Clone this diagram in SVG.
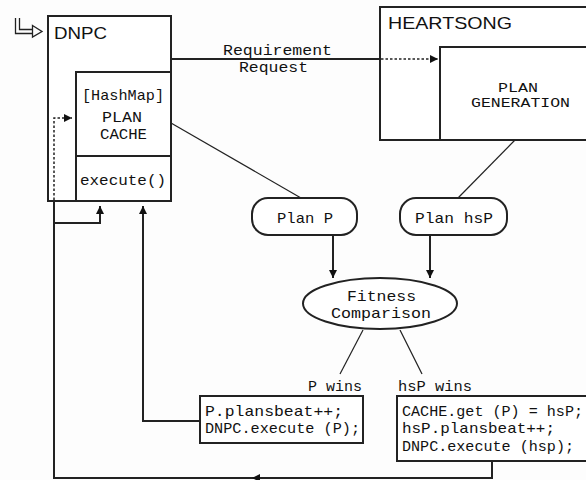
<svg xmlns="http://www.w3.org/2000/svg" width="586" height="480" viewBox="0 0 586 480">
<defs>
<style>
.box{fill:#fff;stroke:#222;stroke-width:2}
.ln{fill:none;stroke:#222;stroke-width:2}
.thin{fill:none;stroke:#222;stroke-width:1.2}
.dot{fill:none;stroke:#222;stroke-width:1.5;stroke-dasharray:2.5 2}
.mono{font-family:"Liberation Mono","DejaVu Sans Mono",monospace;font-size:15px;fill:#111}
.small{font-size:13px}
.sans{font-family:"Liberation Sans",Arial,sans-serif;font-size:17px;fill:#111}
</style>
<marker id="ah" markerUnits="userSpaceOnUse" markerWidth="9" markerHeight="9" refX="8" refY="4" orient="auto">
<path d="M0,0 L8,4 L0,8 z" fill="#111"/>
</marker>
</defs>
<rect width="586" height="480" fill="#fdfdfd"/>

<g id="logo" fill="none" stroke="#222" stroke-width="1.3">
<path d="M15.5,18 V33.5 H32"/>
<path d="M19.5,18 V29.5 H32"/>
<path d="M32.5,25.5 L42,31.5 L32.5,37 Z"/>
</g>

<g id="dnpc">
<rect class="box" x="48" y="16" width="123" height="185"/>
<text class="sans" x="54" y="39" textLength="53" lengthAdjust="spacingAndGlyphs">DNPC</text>
<rect class="box" x="76" y="72" width="95" height="129"/>
<line class="ln" x1="76" y1="156" x2="171" y2="156"/>
<text class="mono" x="82" y="100" textLength="82" lengthAdjust="spacingAndGlyphs">[HashMap]</text>
<text class="mono" x="102" y="122" textLength="40" lengthAdjust="spacingAndGlyphs">PLAN</text>
<text class="mono" x="100" y="139" textLength="47" lengthAdjust="spacingAndGlyphs">CACHE</text>
<text class="mono" x="80" y="185" textLength="86" lengthAdjust="spacingAndGlyphs">execute()</text>
</g>

<g id="heartsong">
<rect class="box" x="380" y="7" width="215" height="133"/>
<text class="sans" x="388" y="29" textLength="124" lengthAdjust="spacingAndGlyphs">HEARTSONG</text>
<rect class="box" x="440" y="47" width="155" height="93"/>
<text class="mono small" x="498" y="91.5" textLength="40" lengthAdjust="spacingAndGlyphs">PLAN</text>
<text class="mono small" x="471" y="106.5" textLength="99" lengthAdjust="spacingAndGlyphs">GENERATION</text>
</g>

<g id="plan-p">
<rect class="box" x="252" y="198" width="105" height="37" rx="16" stroke-width="1.5"/>
<text class="mono" x="277" y="223" textLength="56" lengthAdjust="spacingAndGlyphs">Plan P</text>
</g>

<g id="plan-hsp">
<rect class="box" x="400" y="198" width="107" height="37" rx="16" stroke-width="1.5"/>
<text class="mono" x="415" y="223" textLength="78" lengthAdjust="spacingAndGlyphs">Plan hsP</text>
</g>

<g id="fitness">
<ellipse class="box" cx="380" cy="303.5" rx="77" ry="25.5" stroke-width="1.5"/>
<text class="mono" x="347" y="301" textLength="69" lengthAdjust="spacingAndGlyphs">Fitness</text>
<text class="mono" x="331" y="318" textLength="100" lengthAdjust="spacingAndGlyphs">Comparison</text>
</g>

<g id="p-wins-action">
<rect class="box" x="200" y="396" width="163" height="47"/>
<text class="mono" x="205" y="416" textLength="138" lengthAdjust="spacingAndGlyphs">P.plansbeat++;</text>
<text class="mono" x="205" y="433" textLength="155" lengthAdjust="spacingAndGlyphs">DNPC.execute (P);</text>
</g>

<g id="hsp-wins-action">
<rect class="box" x="397" y="396" width="198" height="65"/>
<text class="mono" x="402" y="416" textLength="181" lengthAdjust="spacingAndGlyphs">CACHE.get (P) = hsP;</text>
<text class="mono" x="402" y="433" textLength="153" lengthAdjust="spacingAndGlyphs">hsP.plansbeat++;</text>
<text class="mono" x="402" y="451" textLength="172" lengthAdjust="spacingAndGlyphs">DNPC.execute (hsp);</text>
</g>

<g id="connectors">
<line class="ln" x1="171" y1="59" x2="380" y2="59"/>
<text class="mono" x="223" y="55" textLength="109" lengthAdjust="spacingAndGlyphs">Requirement</text>
<text class="mono" x="239" y="72" textLength="69" lengthAdjust="spacingAndGlyphs">Request</text>
<line class="dot" x1="381" y1="59" x2="438" y2="59" marker-end="url(#ah)"/>
<line class="thin" x1="171" y1="123" x2="301" y2="198"/>
<line class="thin" x1="515" y1="140" x2="458" y2="198"/>
<line class="ln" x1="333" y1="236" x2="333" y2="278" marker-end="url(#ah)"/>
<line class="ln" x1="430" y1="236" x2="430" y2="278" marker-end="url(#ah)"/>
<line class="thin" x1="363" y1="330" x2="340" y2="374"/>
<line class="thin" x1="400" y1="330" x2="422" y2="374"/>
<text class="mono" x="308" y="391" textLength="54" lengthAdjust="spacingAndGlyphs">P wins</text>
<text class="mono" x="398" y="391" textLength="74" lengthAdjust="spacingAndGlyphs">hsP wins</text>
<polyline class="ln" points="200,421 143,421 143,206" marker-end="url(#ah)"/>
<polyline class="ln" points="492,461 492,478 54,478 54,201"/>
<line class="ln" x1="253" y1="478" x2="252" y2="478" marker-end="url(#ah)"/>
<polyline class="ln" points="54,223 100,223 100,206" marker-end="url(#ah)"/>
<polyline class="dot" points="54,200 54,118 72,118" marker-end="url(#ah)"/>
</g>
</svg>
